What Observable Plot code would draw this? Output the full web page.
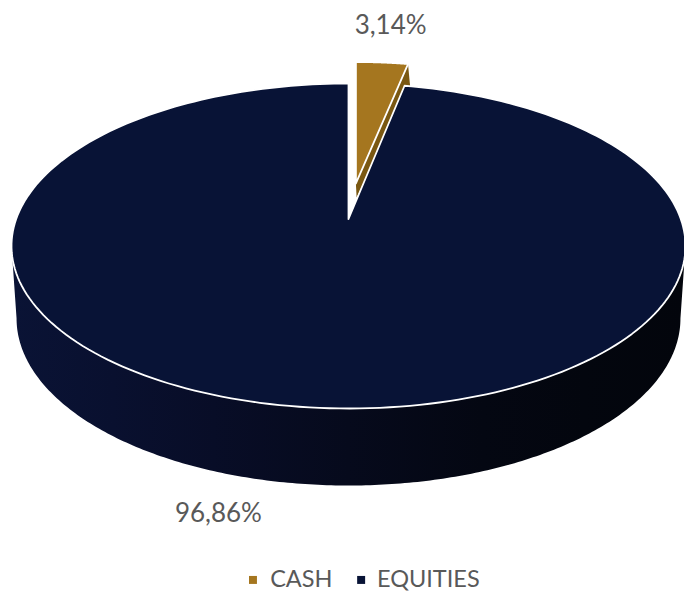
<!DOCTYPE html>
<html>
<head>
<meta charset="utf-8">
<script src="https://cdn.jsdelivr.net/npm/d3@7"></script>
<script src="https://cdn.jsdelivr.net/npm/@observablehq/plot@0.6"></script>
<style>
  html, body { margin: 0; padding: 0; background: #fff; }
  #chart svg { display: block; }
</style>
</head>
<body>
<div id="chart"></div>
<script>
const categories = ["CASH", "EQUITIES"];
const values = [3.14, 96.86];
const labels = ["3,14%", "96,86%"];
const colors = ["#a5761f", "#081336"];
const sideColors = ["#7a5812", null];

// Layout of the tilted pie, in unit-disc coordinates
const tilt = 0.166;               // how far the perspective lifts the hub above the ellipse centre
const wall = {cy: 0.446, rx: 0.985, ry: 1.028};
const exploded = {
  top:  {x: 0.022, y: -0.385, sx: 0.93, sy: 0.896},
  foot: {x: 0.024, y: -0.298, sx: 0.955, sy: 0.84}
};
const labelAt = [{x: 0.125, y: -1.357}, {x: -0.386, y: 1.646}];
const legendRow = 2.055;
const legendSwatchAt = [-0.2835, 0.0375];
const legendTextAt = [-0.2325, 0.0845];
const steps = 240;

const rim = (a) => {
  const u = Math.sin(a), v = -Math.cos(a), d = 1 - tilt * v;
  return {x: u * Math.sqrt(1 - tilt * tilt) / d, y: (v - tilt) / d};
};
const hub = {x: 0, y: -tilt};
const arc = (a0, a1) => d3.range(steps + 1).map((i) => rim(a0 + (a1 - a0) * i / steps));
const place = (p, t) => ({x: t.x + t.sx * p.x, y: t.y + t.sy * (p.y + tilt)});

const pie = d3.pie().sort(null).startAngle(0).endAngle(2 * Math.PI)(values);
const cash = pie[0], equities = pie[1];

const equitiesFace = [hub, ...arc(cash.endAngle, equities.endAngle), hub];
const cashRim = arc(cash.startAngle, cash.endAngle);
const cashFace = [hub, ...cashRim, hub].map((p) => place(p, exploded.top));
const cashEnd = cashRim[cashRim.length - 1];
const cashSide = [
  place(cashEnd, exploded.top), place(cashEnd, exploded.foot),
  place(hub, exploded.foot), place(hub, exploded.top)
];

// Side wall: front half of the top face, back along the front half of the lower rim
const ell = (t, rx, ry, cy) => ({x: rx * Math.cos(t), y: cy + ry * Math.sin(t)});
const sideWall = [
  ...d3.range(steps + 1).map((i) => ell(Math.PI - Math.PI * i / steps, 1, 1, 0)),
  ...d3.range(steps + 1).map((i) => ell(Math.PI * i / steps, wall.rx, wall.ry, wall.cy))
];

const wallStops = [
  [0, "#0a1335"], [0.15, "#09102f"], [0.3, "#080d27"], [0.5, "#060a1c"],
  [0.7, "#040712"], [0.85, "#03060e"], [1, "#03050c"]
];
const defs = () => {
  const d = d3.create("svg:defs");
  const g = d.append("linearGradient").attr("id", "wall");
  wallStops.forEach(([o, c]) => g.append("stop").attr("offset", o).attr("stop-color", c));
  return d.node();
};

const plot = Plot.plot({
  width: 684, height: 591,
  margin: 0,
  x: {domain: [-1, 1], range: [11, 685], axis: null},
  y: {domain: [-1, 1], range: [83, 408], axis: null},
  marks: [
    defs,
    Plot.line(sideWall, {x: "x", y: "y", fill: "url(#wall)", stroke: "none"}),
    Plot.line(cashSide, {x: "x", y: "y", fill: sideColors[0], stroke: "none"}),
    Plot.line(equitiesFace, {x: "x", y: "y", fill: colors[1], stroke: "#fff", strokeWidth: 1.8}),
    Plot.line(cashFace, {x: "x", y: "y", fill: colors[0], stroke: "#fff", strokeWidth: 1.8}),
    Plot.text(labels, {
      x: (d, i) => labelAt[i].x, y: (d, i) => labelAt[i].y, text: (d) => d,
      fontSize: 26, fontFamily: "Lato, sans-serif", fill: "#595959"
    }),
    Plot.dot(categories, {
      x: (d, i) => legendSwatchAt[i], y: () => legendRow,
      symbol: "square", r: 4.5, fill: (d, i) => colors[i], stroke: "none"
    }),
    Plot.text(categories, {
      x: (d, i) => legendTextAt[i], y: () => legendRow, text: (d) => d, textAnchor: "start",
      fontSize: 23.5, fontFamily: "Lato, sans-serif", fill: "#595959"
    })
  ]
});
document.getElementById("chart").appendChild(plot);
</script>
</body>
</html>
